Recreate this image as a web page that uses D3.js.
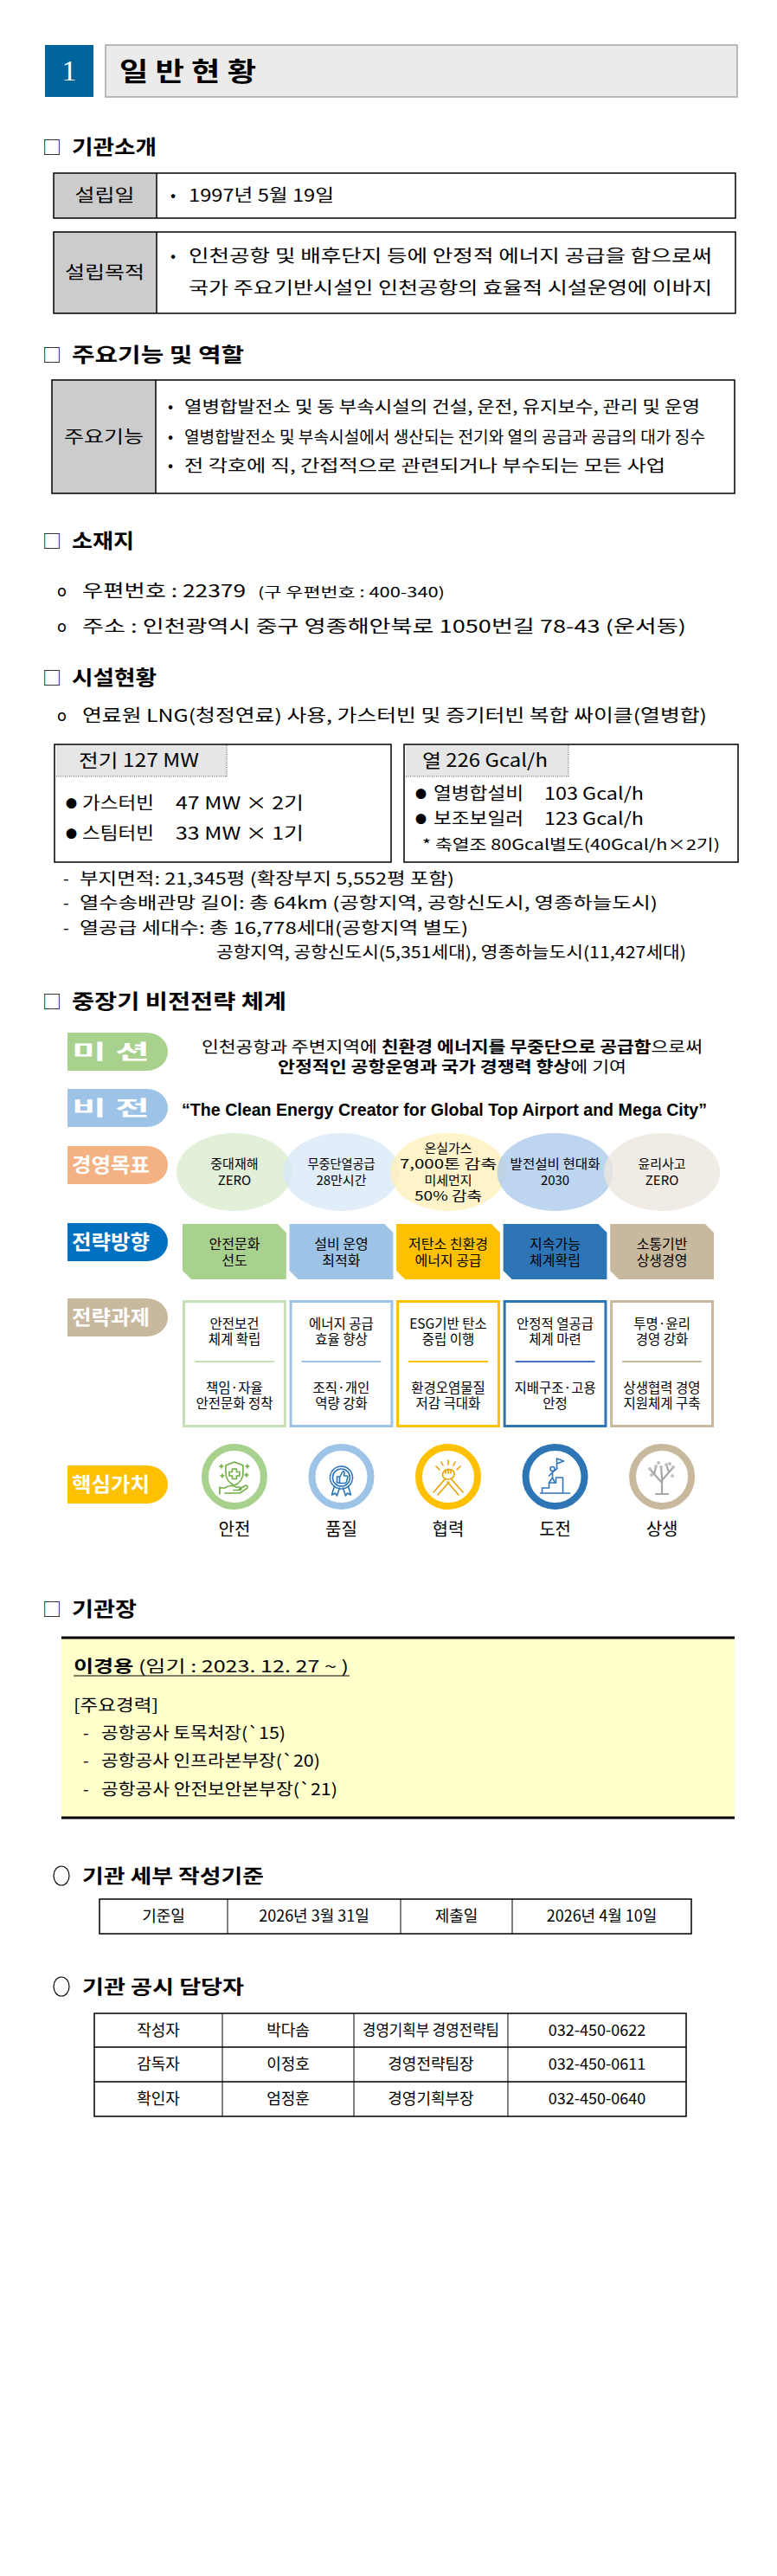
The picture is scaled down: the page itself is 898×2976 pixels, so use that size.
<!DOCTYPE html>
<html>
<head>
<meta charset="utf-8">
<script src="https://cdn.jsdelivr.net/npm/d3@7/dist/d3.min.js"></script>
<style>
  body { margin: 0; background: #fff; }
  svg { display: block; }
  text { font-family: "Noto Sans CJK KR", "Noto Sans", sans-serif; fill: #000; }
</style>
</head>
<body>
<svg id="page"></svg>
<script>
//PAGE////////////////////////////////
const W = 898, H = 2976;

//DATA////////////////////////////////
const sectionNo = "1";
const sectionTitle = "일 반 현 황";
const headings = ["기관소개", "주요기능 및 역할", "소재지", "시설현황", "중장기 비전전략 체계", "기관장"];

const introLabels = ["설립일", "설립목적"];
const introTexts = [
  ["1997년 5월 19일"],
  ["인천공항 및 배후단지 등에 안정적 에너지 공급을 함으로써", "국가 주요기반시설인 인천공항의 효율적 시설운영에 이바지"]
];

const functionLabel = "주요기능";
const functionItems = [
  "열병합발전소 및 동 부속시설의 건설, 운전, 유지보수, 관리 및 운영",
  "열병합발전소 및 부속시설에서 생산되는 전기와 열의 공급과 공급의 대가 징수",
  "전 각호에 직, 간접적으로 관련되거나 부수되는 모든 사업"
];

const postCode = ["우편번호 : 22379", "(구 우편번호 : 400-340)"];
const address = "주소 : 인천광역시 중구 영종해안북로 1050번길 78-43 (운서동)";

const fuelLine = "연료원 LNG(청정연료) 사용, 가스터빈 및 증기터빈 복합 싸이클(열병합)";
const plantTitles = ["전기 127 MW", "열 226 Gcal/h"];
const plantNames = [["가스터빈", "스팀터빈"], ["열병합설비", "보조보일러"]];
const plantValues = [["47 MW × 2기", "33 MW × 1기"], ["103 Gcal/h", "123 Gcal/h"]];
const plantNote = "* 축열조 80Gcal별도(40Gcal/h×2기)";
const siteLines = [
  "부지면적: 21,345평 (확장부지 5,552평 포함)",
  "열수송배관망 길이: 총 64km (공항지역, 공항신도시, 영종하늘도시)",
  "열공급 세대수: 총 16,778세대(공항지역 별도)"
];
const siteSubLine = "공항지역, 공항신도시(5,351세대), 영종하늘도시(11,427세대)";

const rowLabels = ["미  션", "비  전", "경영목표", "전략방향", "전략과제", "핵심가치"];
const missionLine1 = [["인천공항과 주변지역에 ", 0], ["친환경 에너지를 무중단으로 공급함", 1], ["으로써", 0]];
const missionLine2 = [["안정적인 공항운영과 국가 경쟁력 향상", 1], ["에 기여", 0]];
const visionText = "“The Clean Energy Creator for Global Top Airport and Mega City”";
const goals = [
  ["중대재해", "ZERO"],
  ["무중단열공급", "28만시간"],
  ["온실가스", "7,000톤 감축", "미세먼지", "50% 감축"],
  ["발전설비 현대화", "2030"],
  ["윤리사고", "ZERO"]
];
const directions = [
  ["안전문화", "선도"],
  ["설비 운영", "최적화"],
  ["저탄소 친환경", "에너지 공급"],
  ["지속가능", "체계확립"],
  ["소통기반", "상생경영"]
];
const tasksTop = [
  ["안전보건", "체계 확립"],
  ["에너지 공급", "효율 향상"],
  ["ESG기반 탄소", "중립 이행"],
  ["안정적 열공급", "체계 마련"],
  ["투명·윤리", "경영 강화"]
];
const tasksBottom = [
  ["책임·자율", "안전문화 정착"],
  ["조직·개인", "역량 강화"],
  ["환경오염물질", "저감 극대화"],
  ["지배구조·고용", "안정"],
  ["상생협력 경영", "지원체계 구축"]
];
const coreValues = ["안전", "품질", "협력", "도전", "상생"];

const ceoName = "이경용";
const ceoTerm = " (임기 : 2023. 12. 27 ~ )";
const careerTitle = "[주요경력]";
const careers = ["공항공사 토목처장(`15)", "공항공사 인프라본부장(`20)", "공항공사 안전보안본부장(`21)"];

const basisTitle = "기관 세부 작성기준";
const basisRow = ["기준일", "2026년 3월 31일", "제출일", "2026년 4월 10일"];
const contactTitle = "기관 공시 담당자";
const contactRows = [
  ["작성자", "박다솜", "경영기획부 경영전략팀", "032-450-0622"],
  ["감독자", "이정호", "경영전략팀장", "032-450-0611"],
  ["확인자", "엄정훈", "경영기획부장", "032-450-0640"]
];

//STYLES///////////////////////////////
const labelColors = ["#a9d18e", "#9dc3e6", "#f4b183", "#0070c0", "#c8b89e", "#ffc000"];
const goalColors = ["#dbebcf", "#d9e8f6", "#fff0bb", "#adcbea", "#ece6dd"];
const dirColors = ["#a9d18e", "#9dc3e6", "#ffc000", "#2e75b6", "#c8b89e"];
const taskColors = ["#c5e0b4", "#9dc3e6", "#ffc000", "#2e75b6", "#c8b89e"];
const ringColors = ["#a9d18e", "#9dc3e6", "#ffc000", "#2e75b6", "#c8b89e"];
const iconColors = ["#70ad47", "#2e75b6", "#e8a200", "#2e75b6", "#a6a6a6"];

//SETUP////////////////////////////////
const svg = d3.select("#page").attr("width", W).attr("height", H).attr("viewBox", `0 0 ${W} ${H}`);
svg.append("rect").attr("width", W).attr("height", H).attr("fill", "#fff");

// text helper: parts may be string or [[str,bold],...]
function txt(g, x, y, s, o = {}) {
  const t = g.append("text")
    .attr("x", x).attr("y", y).attr("dy", ".36em")
    .attr("font-size", o.size || 19)
    .attr("font-weight", o.weight || 400)
    .attr("text-anchor", o.anchor || "start")
    .style("fill", o.fill || "#000");
  if (o.family) t.style("font-family", o.family);
  if (o.len) t.attr("textLength", o.len).attr("lengthAdjust", "spacingAndGlyphs");
  if (Array.isArray(s)) {
    s.forEach(p => t.append("tspan").attr("font-weight", p[1] ? 700 : 400).text(p[0]));
  } else t.text(s);
  return t;
}
function box(g, x, y, w, h, fill, stroke, sw) {
  return g.append("rect").attr("x", x).attr("y", y).attr("width", w).attr("height", h)
    .attr("fill", fill || "none").attr("stroke", stroke || "none").attr("stroke-width", sw || 0);
}
function hline(g, x1, x2, y, sw, c, dash) {
  const l = g.append("line").attr("x1", x1).attr("x2", x2).attr("y1", y).attr("y2", y)
    .attr("stroke", c || "#000").attr("stroke-width", sw || 1);
  if (dash) l.attr("stroke-dasharray", dash);
  return l;
}
function vline(g, x, y1, y2, sw, c, dash) {
  const l = g.append("line").attr("x1", x).attr("x2", x).attr("y1", y1).attr("y2", y2)
    .attr("stroke", c || "#000").attr("stroke-width", sw || 1);
  if (dash) l.attr("stroke-dasharray", dash);
  return l;
}

//SECTION HEADER///////////////////////
box(svg, 52, 52, 56, 60, "#00659c");
txt(svg, 80, 81, sectionNo, { size: 34, anchor: "middle", fill: "#fff", family: "Liberation Serif" });
box(svg, 122, 52, 730, 60, "#ebebeb", "#a5a5a5", 1.5);
txt(svg, 138, 82, sectionTitle, { size: 30, weight: 700, len: 158 });

//SUB HEADINGS/////////////////////////
const headY = [170, 410, 625, 783, 1157, 1859];
const headLen = [98, 199, 72, 98, 248, 75];
headings.forEach((h, i) => {
  txt(svg, 49, headY[i], "□", { size: 22 });
  txt(svg, 83, headY[i], h, { size: 23, weight: 700, len: headLen[i] });
});

//INTRO BOXES//////////////////////////
const introBoxes = [[200, 252, [226]], [268, 362, [296, 333]]];
const introLens = [[168], [605, 605]];
const introLabelLen = [69, 92];
introLabels.forEach((lab, i) => {
  const [y0, y1, ly] = introBoxes[i];
  box(svg, 62, y0, 119, y1 - y0, "#cccccc");
  box(svg, 62, y0, 788, y1 - y0, "none", "#000", 1.5);
  vline(svg, 181, y0, y1, 1.5);
  txt(svg, 121, (y0 + y1) / 2, lab, { size: 20, anchor: "middle", len: introLabelLen[i] });
  introTexts[i].forEach((s, j) => {
    if (j === 0) txt(svg, 197, ly[j], "•", { size: 18 });
    txt(svg, 218, ly[j], s, { size: 20, len: introLens[i][j] });
  });
});

//FUNCTIONS BOX////////////////////////
box(svg, 60, 439, 120, 131, "#cccccc");
box(svg, 60, 439, 789, 131, "none", "#000", 1.5);
vline(svg, 180, 439, 570, 1.5);
txt(svg, 120, 505, functionLabel, { size: 20, anchor: "middle", len: 92 });
const funcY = [470, 505, 538], funcLen = [596, 602, 556];
functionItems.forEach((s, i) => {
  txt(svg, 194, funcY[i], "•", { size: 18 });
  txt(svg, 213, funcY[i], s, { size: 19, len: funcLen[i] });
});

//LOCATION/////////////////////////////
txt(svg, 66, 683, "o", { size: 18 });
txt(svg, 95, 683, postCode[0], { size: 20, len: 189 });
txt(svg, 298, 684, postCode[1], { size: 16, len: 216 });
txt(svg, 66, 724, "o", { size: 18 });
txt(svg, 95, 724, address, { size: 20, len: 698 });

//FACILITIES///////////////////////////
txt(svg, 66, 827, "o", { size: 18 });
txt(svg, 95, 827, fuelLine, { size: 20, len: 722 });

const plantBoxes = [
  { x: 63, w: 389, tabW: 197, titleX: 91, titleLen: 139, bx: 76, nx: 95, vx: 203, nLen: 83, vLen: 148, ys: [928, 963] },
  { x: 467, w: 386, tabW: 188, titleX: 488, titleLen: 145, bx: 480, nx: 501, vx: 629, nLen: 104, vLen: 115, ys: [917, 946] }
];
plantBoxes.forEach((p, i) => {
  box(svg, p.x, 860, p.w, 136, "#fff", "#000", 1.5);
  box(svg, p.x + 2, 861, p.tabW, 36, "#e6e6e6");
  vline(svg, p.x + 2 + p.tabW, 861, 897, 1, "#555", "1,1.5");
  hline(svg, p.x + 2, p.x + 2 + p.tabW, 897, 1, "#555", "1,1.5");
  txt(svg, p.titleX, 878, plantTitles[i], { size: 21, len: p.titleLen });
  plantNames[i].forEach((n, j) => {
    txt(svg, p.bx, p.ys[j], "●", { size: 13 });
    txt(svg, p.nx, p.ys[j], n, { size: 20, len: p.nLen });
    txt(svg, p.vx, p.ys[j], plantValues[i][j], { size: 20, len: p.vLen });
  });
});
txt(svg, 488, 976, plantNote, { size: 17, len: 344 });

const siteY = [1015, 1043, 1072], siteLen = [433, 668, 449];
siteLines.forEach((s, i) => {
  txt(svg, 73, siteY[i], "-", { size: 19 });
  txt(svg, 92, siteY[i], s, { size: 19, len: siteLen[i] });
});
txt(svg, 250, 1100, siteSubLine, { size: 19, len: 543 });

//VISION SYSTEM////////////////////////
const col = d3.scaleBand().domain(d3.range(5)).range([211, 825]).paddingInner(0.03);
const labelY = [1193, 1258, 1324, 1413, 1500, 1693];
function tabPath(x, y, w, h) {
  const r = 24;
  return `M${x},${y}H${x + w - r}A${r},${h / 2} 0 0 1 ${x + w - r},${y + h}H${x}Z`;
}
rowLabels.forEach((s, i) => {
  svg.append("path").attr("d", tabPath(78, labelY[i], 116, 44)).attr("fill", labelColors[i]);
  txt(svg, 128, labelY[i] + 22, s, { size: 23, weight: 700, anchor: "middle", fill: "#fff", len: s.length > 3 ? 90 : 68 });
});

// mission & vision
txt(svg, 233, 1210, missionLine1, { size: 18, len: 579 });
txt(svg, 321, 1233, missionLine2, { size: 18, len: 403 });
txt(svg, 210, 1281, visionText, { size: 21, weight: 700, len: 607, family: "Liberation Sans, Arial, sans-serif" });

// management goals
const gG = svg.append("g");
goals.forEach((lines, i) => {
  const cx = col(i) + col.bandwidth() / 2;
  gG.append("ellipse").attr("cx", cx).attr("cy", 1354).attr("rx", 67).attr("ry", 45)
    .attr("fill", goalColors[i]).attr("fill-opacity", 0.8);
});
goals.forEach((lines, i) => {
  const cx = col(i) + col.bandwidth() / 2;
  const y0 = 1354 - (lines.length - 1) * 18.5 / 2;
  lines.forEach((s, j) => {
    const w = Math.min(112, s.length * 13);
    txt(gG, cx, y0 + j * 18.5, s, { size: 15, anchor: "middle", len: s.length > 5 ? w : null });
  });
});

// strategic directions
function cutPath(x, y, w, h, c) {
  return `M${x},${y}H${x + w - c}L${x + w},${y + c}V${y + h}H${x + c}L${x},${y + h - c}Z`;
}
directions.forEach((lines, i) => {
  const x = col(i), w = col.bandwidth();
  svg.append("path").attr("d", cutPath(x, 1414, w, 64, 10)).attr("fill", dirColors[i]);
  lines.forEach((s, j) => txt(svg, x + w / 2, 1437 + j * 19, s, { size: 16, anchor: "middle" }));
});

// strategic tasks
tasksTop.forEach((top, i) => {
  const x = col(i), w = col.bandwidth();
  box(svg, x + 1.5, 1503.5, w - 3, 144, "#fff", taskColors[i], 3);
  hline(svg, x + 14, x + w - 14, 1573, 2, taskColors[i] === "#2e75b6" ? "#4472c4" : taskColors[i]);
  top.forEach((s, j) => txt(svg, x + w / 2, 1529 + j * 18.5, s, { size: 15.5, anchor: "middle" }));
  tasksBottom[i].forEach((s, j) => txt(svg, x + w / 2, 1603 + j * 18.5, s, { size: 15.5, anchor: "middle" }));
});

// core values: rings + icons
const icons = [
  (g, c) => { // shield + hand
    g.append("path").attr("d", "M0,-18 L10,-14 V-6 C10,2 5,7 0,9 C-5,7 -10,2 -10,-6 V-14 Z");
    g.append("path").attr("d", "M-2.5,-10 H2.5 V-6.5 H6 V-2 H2.5 V1.5 H-2.5 V-2 H-6 V-6.5 H-2.5 Z").attr("fill", "#fff");
    g.append("path").attr("d", "M-17,12 H-11 C-7,9 -2,9 2,11 H6 C8.5,11 8.5,14.5 6,14.5 H-1 M5.5,13.5 L12,9.5 C14.5,8 16.5,11 14,12.8 L6,18 H-11 M-17,19 V11");
    [[-15, -13], [15, -13], [-14, -2], [14, -3]].forEach(p => {
      g.append("path").attr("d", `M${p[0] - 2},${p[1]}H${p[0] + 2}M${p[0]},${p[1] - 2}V${p[1] + 2}`);
    });
  },
  (g, c) => { // rosette + thumbs up
    g.append("circle").attr("r", 13).attr("stroke-dasharray", "2,1.2");
    g.append("circle").attr("r", 10);
    g.append("path").attr("d", "M-5,-1 H-2 V6 H-5 Z M-2,0 L1,-6 C2,-8 4,-7 3.5,-5 L3,-2 H6 C7.5,-2 8,-0.5 7,1 L6,5 C5.5,6 5,6.5 3.5,6.5 H-2");
    g.append("path").attr("d", "M-8,10 L-11,20 L-7,18 L-5,21 L-2,12 M8,10 L11,20 L7,18 L5,21 L2,12");
  },
  (g, c) => { // handshake
    g.append("path").attr("d", "M-17,17 L-3,1 M-12,20 L1,5 M17,17 L3,1 M12,20 L-1,5");
    g.append("path").attr("d", "M-6,-1 C-8,-6 -3,-10 1,-9 C5,-10 9,-6 6,-1 C4,3 -4,3 -6,-1 Z");
    g.append("path").attr("d", "M-3,-9 V-5 M0,-10 V-5 M3,-9 V-5");
    g.append("path").attr("d", "M-14,-13 L-10,-9 M14,-13 L10,-9 M0,-20 V-15 M-8,-18 L-6,-14 M8,-18 L6,-14");
  },
  (g, c) => { // stairs + flag
    g.append("path").attr("d", "M-17,18 H17 M-15,18 V12 H-7 V6 H1 V0 H9 V18");
    g.append("circle").attr("r", 2.5).attr("cx", -3).attr("cy", -10);
    g.append("path").attr("d", "M-3,-7 V0 M-3,-6 L2,-10 M-3,-6 L-7,-2 M-3,0 L-7,6 M-3,0 L0,6");
    g.append("path").attr("d", "M2,-10 V-22 M2,-22 L10,-19 L2,-16");
  },
  (g, c) => { // tree
    g.append("path").attr("d", "M0,19 V2 M0,6 L-9,-4 M0,3 L8,-6 M-9,-4 L-14,-10 M-9,-4 L-7,-13 M8,-6 L13,-12 M8,-6 L5,-15 M0,2 L-1,-12").attr("stroke-width", 2.2);
    [[-14, -10], [-7, -13], [13, -12], [5, -15], [-1, -12], [-12, -3], [12, -2], [-4, -17], [9, -16]].forEach(p => {
      g.append("circle").attr("cx", p[0]).attr("cy", p[1]).attr("r", 2).attr("fill", "#bfbfbf").attr("stroke", "none");
    });
    g.append("path").attr("d", "M-7,19 H7").attr("stroke-width", 2);
  }
];
coreValues.forEach((s, i) => {
  const cx = col(i) + col.bandwidth() / 2;
  svg.append("circle").attr("cx", cx).attr("cy", 1706).attr("r", 34)
    .attr("fill", "#fff").attr("stroke", ringColors[i]).attr("stroke-width", 8);
  const ig = svg.append("g").attr("transform", `translate(${cx},1707)`)
    .attr("fill", "none").attr("stroke", iconColors[i]).attr("stroke-width", 1.6)
    .attr("stroke-linecap", "round").attr("stroke-linejoin", "round");
  icons[i](ig, iconColors[i]);
  txt(svg, cx, 1767, s, { size: 20, anchor: "middle" });
});

//CEO//////////////////////////////////
box(svg, 71, 1891, 778, 209, "#ffffcc");
hline(svg, 71, 849, 1892, 3);
hline(svg, 71, 849, 2100, 3);
txt(svg, 85, 1925, [[ceoName, 1], [ceoTerm, 0]], { size: 19, len: 318 });
hline(svg, 85, 404, 1936, 1.2);
txt(svg, 85, 1970, careerTitle, { size: 19, len: 98 });
const careerY = [2002, 2034, 2067], careerLen = [213, 253, 273];
careers.forEach((s, i) => {
  txt(svg, 96, careerY[i], "-", { size: 19 });
  txt(svg, 117, careerY[i], s, { size: 19, len: careerLen[i] });
});

//TABLES///////////////////////////////
function circHead(y, s, len) {
  svg.append("ellipse").attr("cx", 71).attr("cy", y).attr("rx", 9).attr("ry", 11)
    .attr("fill", "none").attr("stroke", "#000").attr("stroke-width", 1.2);
  txt(svg, 95, y, s, { size: 22, weight: 700, len: len });
}
function table(xs, ys, rows, lens) {
  const g = svg.append("g");
  xs.slice(1, -1).forEach(x => vline(g, x, ys[0], ys[ys.length - 1], 1));
  ys.slice(1, -1).forEach(y => hline(g, xs[0], xs[xs.length - 1], y, 1.5));
  box(g, xs[0], ys[0], xs[xs.length - 1] - xs[0], ys[ys.length - 1] - ys[0], "none", "#000", 1.5);
  rows.forEach((r, ri) => r.forEach((s, ci) => {
    const len = lens && lens[ri] && lens[ri][ci];
    txt(g, (xs[ci] + xs[ci + 1]) / 2, (ys[ri] + ys[ri + 1]) / 2, s, { size: 18, anchor: "middle", len: len || null });
  }));
}
circHead(2167, basisTitle, 210);
table([115, 263, 463, 592, 799], [2194, 2234], [basisRow]);
circHead(2295, contactTitle, 187);
table([109, 257, 409, 587, 793], [2326, 2365, 2405, 2445], contactRows, [[null, null, 158, null]]);
</script>
</body>
</html>
